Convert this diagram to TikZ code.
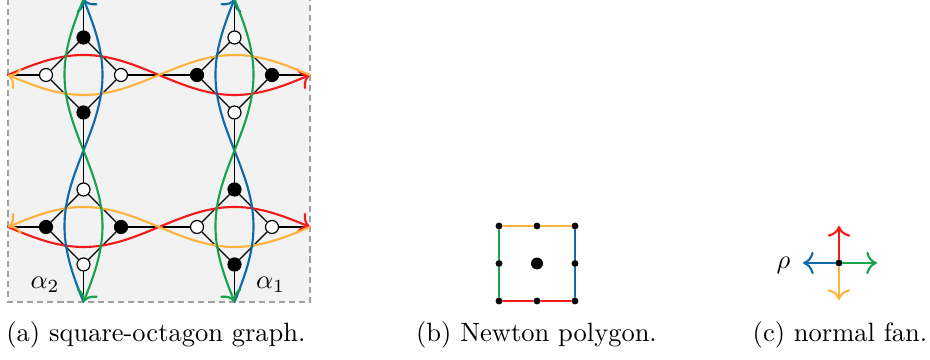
\documentclass[tikz,border=0pt]{standalone}
\usetikzlibrary{arrows.meta}
\definecolor{frameline}{HTML}{A0A0A0}
\definecolor{framefill}{HTML}{F2F2F2}
\definecolor{zred}{HTML}{F21A1A}
\definecolor{zorange}{HTML}{FDB43F}
\definecolor{zblue}{HTML}{0F6BA5}
\definecolor{zgreen}{HTML}{17A34B}
\newcommand{\octcell}[5]{%
  \begin{scope}[shift={(#2,#3)}]
    \node[#4] (#1w) at (-37.5,0) {};
    \node[#4] (#1e) at (37.5,0) {};
    \node[#5] (#1n) at (0,-37.5) {};
    \node[#5] (#1s) at (0,37.5) {};
    \draw[gedge] (#1w) -- (#1n) -- (#1e) -- (#1s) -- (#1w);
  \end{scope}
}

\begin{document}
\begin{tikzpicture}[
  x=0.3774pt,
  y=-0.3774pt,
  >={To[scale=1.2]},
  line cap=round,
  wv/.style={circle, draw=black, fill=white, line width=0.45pt, inner sep=0pt, minimum size=4.9pt},
  bv/.style={wv, fill=black},
  gedge/.style={black, line width=0.45pt},
  wave/.style={line width=0.8pt, smooth, samples=61, variable=\t},
  dot/.style={circle, fill=black, inner sep=0pt, minimum size=2.6pt},
  side/.style={line width=0.8pt}
]
  \useasboundingbox (0,0) rectangle (930,360);
  \draw[frameline, fill=framefill, line width=0.5pt, line cap=butt, dash pattern=on 2.3pt off 1.5pt]
    (8,-1) rectangle (310,302);

  \octcell{A}{83.5}{75}{wv}{bv}
  \octcell{B}{234.5}{75}{bv}{wv}
  \octcell{C}{83.5}{227}{bv}{wv}
  \octcell{D}{234.5}{227}{wv}{bv}
  \foreach \v/\vx/\vy in {Aw/8/75, An/83.5/-1, Bn/234.5/-1, Be/310/75, Cw/8/227, Cs/83.5/302, Ds/234.5/302, De/310/227}
    \coordinate (\v0) at (\vx,\vy);
  \foreach \a/\b in {Ae/Bw, Ce/Dw, As/Cn, Bs/Dn, Aw/Aw0, An/An0, Bn/Bn0, Be/Be0, Cw/Cw0, Cs/Cs0, Ds/Ds0, De/De0}
    \draw[gedge] (\a) -- (\b);

  \foreach \r/\s in {75/-1, 227/1} {
    \draw[wave, zred, ->, domain=8:310] plot ({\t}, {\r+(\s)*20*sin((\t-8)/151*180)});
    \draw[wave, zorange, <-, domain=8:310] plot ({\t}, {\r-(\s)*20*sin((\t-8)/151*180)});
  }
  \foreach \c/\s in {83.5/1, 234.5/-1} {
    \draw[wave, zblue, <-, domain=-1:302] plot ({\c+(\s)*19*sin((\t+1)/151.5*180)}, {\t});
    \draw[wave, zgreen, ->, domain=-1:302] plot ({\c-(\s)*19*sin((\t+1)/151.5*180)}, {\t});
  }
  \node (a2) at (45,285) {$\alpha_2$};
  \node (a1) at (270.5,285) {$\alpha_1$};

  \foreach \n/\vx/\vy in {qnw/499/226, qn/537/226, qne/575/226, qw/499/263.5, qe/575/263.5, qsw/499/301, qs/537/301, qse/575/301}
    \node[dot] (\n) at (\vx,\vy) {};
  \node[dot, minimum size=4.5pt] (qc) at (537,263.5) {};
  \draw[side, zorange] (qnw) -- (qn) -- (qne);
  \draw[side, zgreen] (qnw) -- (qw) -- (qsw);
  \draw[side, zblue] (qne) -- (qe) -- (qse);
  \draw[side, zred] (qsw) -- (qs) -- (qse);

  \node[dot] (o) at (839,263) {};
  \coordinate (fu) at (839,226);
  \coordinate (fd) at (839,300);
  \coordinate (fl) at (803,263);
  \coordinate (fr) at (877,263);
  \draw[side, zred, ->] (o) -- (fu);
  \draw[side, zorange, ->] (o) -- (fd);
  \draw[side, zblue, ->] (o) -- (fl);
  \draw[side, zgreen, ->] (o) -- (fr);
  \node (rho) at (783.5,265) {$\rho$};

  \node[anchor=base] (capa) at (156,342) {(a) square-octagon graph.};
  \node[anchor=base] (capb) at (536.5,342) {(b) Newton polygon.};
  \node[anchor=base] (capc) at (840,342) {(c) normal fan.};
\end{tikzpicture}
\end{document}
